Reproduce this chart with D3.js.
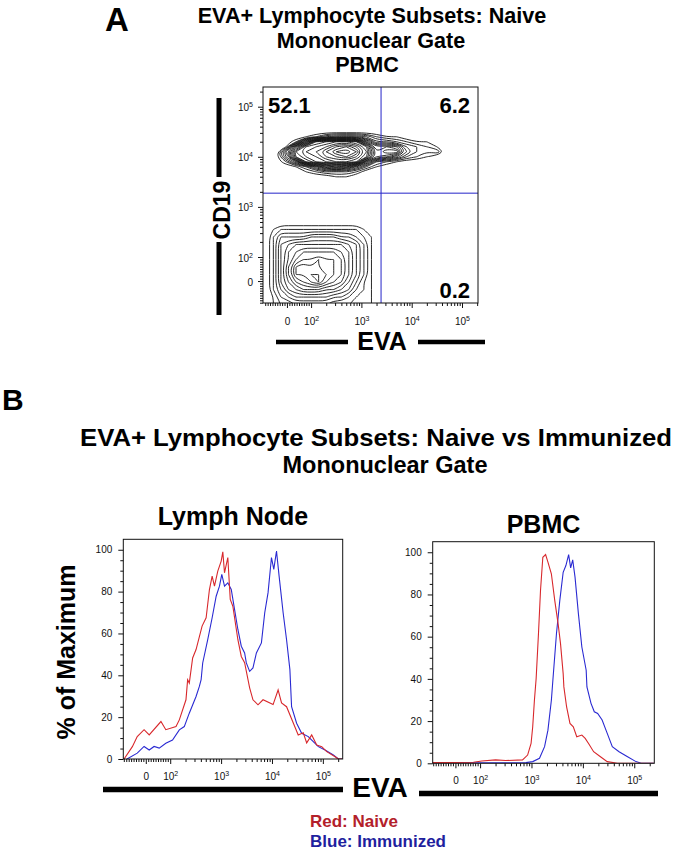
<!DOCTYPE html>
<html lang="en">
<head>
  <meta charset="UTF-8">
  <title>EVA+ Lymphocyte Subsets</title>
  <script src="https://d3js.org/d3.v7.min.js"></script>
  <style>
    body {
      margin: 0;
      background: #fff;
    }
    svg {
      display: block;
      font-family: 'Liberation Sans', Arial, Helvetica, sans-serif;
    }
    .tick text {
      font-size: 10px;
      fill: #111;
    }
    .tick line,
    .frame {
      stroke: #111;
    }
  </style>
</head>
<body>
  <svg id="fig" width="676" height="852"></svg>

  <script>
    // ---- data ----
    const titleA = ["EVA+ Lymphocyte Subsets: Naive", "Mononuclear Gate", "PBMC"];
    const titleB = ["EVA+ Lymphocyte Subsets: Naive vs Immunized", "Mononuclear Gate"];
    const histTitles = ["Lymph Node", "PBMC"];
    const legendLabels = ["Red: Naive", "Blue: Immunized"];

    // quadrant percentages (UL, UR, LR) and gate position [EVA, CD19]
    const quadLabels = ["52.1", "6.2", "0.2"];
    const quadGate = [2460, 1880];

    // logicle-style axis ticks
    const majorTicks = [0, 100, 1000, 10000, 100000];
    const majorExp = [null, 2, 3, 4, 5];
    const pctTicks = [0, 20, 40, 60, 80, 100];

    // panel A density estimate, levels in base 36, grid axes in decades [start, step]
    const bCellGrid = [
      "0000000000000000000",
      "0000000000000000000",
      "0000000000000000000",
      "0001245554211000000",
      "0028efggf9443211000",
      "01afghjkif898432100",
      "06eghjlmkg9bb532300",
      "05dfgijkif986321000",
      "026dfghhg8321000000",
      "001369a963100000000",
      "0001233320000000000",
      "0000001100000000000",
      "0000000000000000000",
      "0000000000000000000",
      "0000000000000000000"
    ];
    const bCellGridX = [1.3, 0.2];
    const bCellGridY = [4.7, -0.1];

    const otherGrid = [
      "00000000000000000",
      "00000000000000000",
      "00000000000000000",
      "01222222222221000",
      "02444455554432100",
      "02567777777653100",
      "02578999998753100",
      "02579aabaa9753100",
      "0258bcbbaa9753100",
      "0258bbccba9753100",
      "02579abca98642100",
      "02467888776532100",
      "01345555544321100",
      "01223333322211100",
      "01223333322211100"
    ];
    const otherGridX = [1.1, 0.15];
    const otherGridY = [3.0, -0.15];

    // panel B histograms: [EVA intensity, % of maximum]
    const lymphNaive = [
      [-89, 0], [-55, 5.9], [-35, 10.7], [-7, 14], [14, 11.5], [62, 17.9], [82, 14],
      [130, 15.5], [151, 18.7], [204, 28.3], [220, 37.9], [237, 36.3], [276, 48.3],
      [322, 52.3], [423, 63.5], [508, 67.5], [590, 81], [667, 87.4], [741, 82.6],
      [861, 89.8], [1004, 94.6], [1081, 99], [1167, 89], [1356, 96.3], [1513, 76.3],
      [1703, 73], [2138, 57], [2495, 49], [2899, 46], [3640, 34], [4229, 28.3],
      [5311, 25.9], [6668, 28.3], [10515, 26], [13202, 33], [15417, 26.8], [19354, 25],
      [26111, 17.3], [32800, 11.5], [41200, 12.5], [48100, 7.7], [60350, 11.5],
      [75700, 6.7], [95100, 5.9], [119300, 3.5], [174000, 1.1], [202000, 0], [240000, 0]
    ];
    const lymphImmunized = [
      [-77, 0], [-35, 2.8], [-7, 6], [14, 4.3], [34, 6], [55, 5.2], [82, 7.5],
      [111, 9.1], [151, 13.9], [189, 15.5], [237, 21.9], [322, 29.9], [374, 34.7],
      [405, 37.9], [435, 45.9], [546, 57], [667, 67.5], [800, 77.8], [929, 82.6],
      [1032, 88.2], [1167, 82.6], [1356, 84.2], [1584, 81], [1841, 71.4], [2138, 61.9],
      [2495, 53.9], [2899, 50.7], [3132, 45.9], [3640, 41.9], [4229, 43.5], [4939, 50.7],
      [6199, 55.5], [7205, 69.9], [8375, 79.5], [9774, 96.3], [10856, 90.6], [12270, 99.4],
      [13812, 87.4], [16570, 69.9], [19354, 57], [22494, 42.7], [24283, 25], [30492, 17.1],
      [38300, 12.3], [51700, 10.7], [64900, 8.3], [81500, 5.9], [110400, 4.3],
      [161000, 1.9], [202000, 0], [240000, 0]
    ];
    const pbmcNaive = [
      [-95, 0.3], [73, 0.5], [108, 1.1], [200, 1.6], [315, 1.3], [670, 1.6], [841, 3.9],
      [982, 9.4], [1057, 17.3], [1141, 29.9], [1233, 40.2], [1368, 61.4], [1499, 81.9],
      [1663, 97.6], [1883, 98.9], [2091, 95.3], [2438, 89.8], [2836, 77.2], [3296, 66.2],
      [3674, 56.7], [4137, 42.5], [4270, 36.2], [4827, 26.7], [5610, 18.9], [6516, 17.3],
      [7607, 12.6], [9556, 13.4], [11100, 11.8], [12900, 9.4], [16200, 5.5], [22000, 3.1],
      [29800, 0.8], [47000, 0], [240000, 0]
    ];
    const pbmcImmunized = [
      [-95, 0.2], [782, 0.3], [1057, 0.8], [1432, 2.4], [1798, 7.9], [2091, 15.7],
      [2438, 29.9], [2624, 40.2], [3063, 61.4], [3559, 77.2], [4137, 90.5], [4675, 93.7],
      [5288, 98.9], [5790, 92.6], [6341, 96.4], [7040, 88.2], [8185, 70.9], [9556, 55.1],
      [11600, 44.1], [12000, 36.2], [14400, 28.4], [16700, 24.4], [19400, 23.6],
      [23700, 20.5], [29800, 14.2], [37400, 7.9], [50600, 5.5], [74100, 3.1],
      [108000, 0.8], [136000, 0], [240000, 0]
    ];

    // ---- helpers ----
    const LIN_WIDTH = 0.48; // decades used by the linear 0..100 zone
    function logicle(v) {
      return v >= 100 ? Math.log10(v) : 2 - LIN_WIDTH * (100 - v) / 100;
    }

    const minorTicks = [];
    for (let v = -90; v < 100; v += 10) if (v !== 0) minorTicks.push(v);
    for (let d = 2; d <= 5; d++) for (let k = 2; k <= 9; k++) minorTicks.push(k * Math.pow(10, d));

    const RED = "#d8282c", BLUE = "#2a2ad2";
    const svg = d3.select("#fig");

    function boldText(x, y, str, size, anchor) {
      return svg.append("text")
        .attr("x", x).attr("y", y)
        .attr("font-size", size).attr("font-weight", "bold")
        .attr("text-anchor", anchor || "middle")
        .text(str);
    }

    function powLabel(sel, i) {
      if (majorExp[i] === null) { sel.text("0"); return; }
      sel.append("tspan").text("10");
      sel.append("tspan").attr("dy", -4).attr("font-size", 7).text(majorExp[i]);
    }

    // logicle axis: d3 axis for ticks, labels with superscripts
    function logicleAxis(g, scale, axisFn, labelPos) {
      const dom = scale.domain();
      const inside = v => logicle(v) >= dom[0] && logicle(v) <= dom[1];
      g.append("g").call(axisFn(scale).tickValues(minorTicks.filter(inside).map(logicle))
        .tickSize(3).tickFormat("")).select(".domain").remove();
      const major = g.append("g").call(axisFn(scale).tickValues(majorTicks.map(logicle))
        .tickSize(5).tickFormat(""));
      major.select(".domain").remove();
      major.selectAll(".tick").each(function (d, i) {
        const t = d3.select(this).append("text")
          .attr("fill", "#111")
          .attr("x", labelPos[0]).attr("y", labelPos[1])
          .attr("text-anchor", labelPos[2]);
        powLabel(t, i);
      });
    }

    // ---- panel A ----
    boldText(105, 31, "A", 33, "start");
    boldText(372, 23, titleA[0], 21.6);
    boldText(371, 48, titleA[1], 21.6);
    boldText(367, 72, titleA[2], 21.6);

    const A = { left: 263, top: 87, right: 478, bottom: 303 };
    const xA = d3.scaleLinear().domain([1.044, 5.318]).range([A.left, A.right]);
    const yA = d3.scaleLinear().domain([1.082, 5.393]).range([A.bottom, A.top]);

    svg.append("clipPath").attr("id", "clipA").append("rect")
      .attr("x", A.left).attr("y", A.top)
      .attr("width", A.right - A.left).attr("height", A.bottom - A.top);

    const contourG = svg.append("g").attr("clip-path", "url(#clipA)");

    function drawDensity(grid, gx, gy) {
      const rows = grid.map(r => Array.from(r, c => parseInt(c, 36)));
      const n = rows[0].length, m = rows.length;
      const values = rows.flat();
      const levels = d3.range(1, d3.max(values) + 1);
      const sets = d3.contours().size([n, m]).thresholds(levels)(values);
      const ring = d3.line()
        .x(p => xA(gx[0] + (p[0] - 0.5) * gx[1]))
        .y(p => yA(gy[0] + (p[1] - 0.5) * gy[1]))
        .curve(d3.curveBasisClosed);
      sets.forEach(s => s.coordinates.forEach(poly => poly.forEach(r => {
        contourG.append("path")
          .attr("d", ring(r.slice(0, -1)))
          .attr("fill", "none")
          .attr("stroke", "#111")
          .attr("stroke-width", 0.9);
      })));
    }
    drawDensity(bCellGrid, bCellGridX, bCellGridY);
    drawDensity(otherGrid, otherGridX, otherGridY);

    // quadrant gate
    const gx = xA(logicle(quadGate[0])), gy = yA(logicle(quadGate[1]));
    svg.append("line").attr("x1", gx).attr("x2", gx).attr("y1", A.top).attr("y2", A.bottom)
      .attr("stroke", "#2424c8").attr("stroke-width", 1);
    svg.append("line").attr("x1", A.left).attr("x2", A.right).attr("y1", gy).attr("y2", gy)
      .attr("stroke", "#2424c8").attr("stroke-width", 1);

    svg.append("rect").attr("class", "frame")
      .attr("x", A.left).attr("y", A.top)
      .attr("width", A.right - A.left).attr("height", A.bottom - A.top)
      .attr("fill", "none");

    boldText(268, 113, quadLabels[0], 22, "start");
    boldText(470, 113, quadLabels[1], 22, "end");
    boldText(470, 298, quadLabels[2], 22, "end");

    logicleAxis(svg.append("g").attr("transform", `translate(0,${A.bottom})`),
      xA, d3.axisBottom, [0, 22, "middle"]);
    logicleAxis(svg.append("g").attr("transform", `translate(${A.left},0)`),
      yA, d3.axisLeft, [-10, 4, "end"]);

    // axis titles with the heavy rule marks
    svg.append("line").attr("x1", 219).attr("x2", 219).attr("y1", 98).attr("y2", 177)
      .attr("stroke", "#000").attr("stroke-width", 5);
    svg.append("line").attr("x1", 219).attr("x2", 219).attr("y1", 242).attr("y2", 315)
      .attr("stroke", "#000").attr("stroke-width", 5);
    boldText(0, 0, "CD19", 23).attr("transform", "translate(230,210) rotate(-90)");

    svg.append("line").attr("x1", 276).attr("x2", 348).attr("y1", 342).attr("y2", 342)
      .attr("stroke", "#000").attr("stroke-width", 4.5);
    svg.append("line").attr("x1", 418).attr("x2", 485).attr("y1", 342).attr("y2", 342)
      .attr("stroke", "#000").attr("stroke-width", 4.5);
    boldText(382, 350, "EVA", 25);

    // ---- panel B ----
    boldText(2, 410, "B", 30, "start");
    boldText(376, 446, titleB[0], 24).attr("textLength", 592).attr("lengthAdjust", "spacingAndGlyphs");
    boldText(385, 473, titleB[1], 24).attr("textLength", 205).attr("lengthAdjust", "spacingAndGlyphs");

    const histPanels = [
      { title: histTitles[0], naive: lymphNaive, immune: lymphImmunized,
        box: [123.3, 539.3, 342.7, 759], titleY: 525 },
      { title: histTitles[1], naive: pbmcNaive, immune: pbmcImmunized,
        box: [432.7, 541.7, 654.3, 763.3], titleY: 533 }
    ];

    histPanels.forEach((p, i) => {
      const [l, t, r, b] = p.box;
      const x = d3.scaleLinear().domain([1.078, 5.39]).range([l, r]);
      const y = d3.scaleLinear().domain([0, 105]).range([b, t]);
      const clipId = "clipH" + i;
      svg.append("clipPath").attr("id", clipId).append("rect")
        .attr("x", l).attr("y", t - 2).attr("width", r - l).attr("height", b - t + 2);

      boldText((l + r) / 2, p.titleY, p.title, 25);

      const line = d3.line().x(d => x(logicle(d[0]))).y(d => y(d[1]));
      const g = svg.append("g").attr("clip-path", `url(#${clipId})`);
      g.append("path").datum(p.immune).attr("d", line)
        .attr("fill", "none").attr("stroke", BLUE).attr("stroke-width", 1.1);
      g.append("path").datum(p.naive).attr("d", line)
        .attr("fill", "none").attr("stroke", RED).attr("stroke-width", 1.1);

      svg.append("rect").attr("class", "frame")
        .attr("x", l).attr("y", t).attr("width", r - l).attr("height", b - t)
        .attr("fill", "none");

      const yAxis = svg.append("g").attr("transform", `translate(${l},0)`);
      yAxis.append("g").call(d3.axisLeft(y).tickValues(d3.range(5, 105, 5).filter(v => v % 20))
        .tickSize(3).tickFormat("")).select(".domain").remove();
      yAxis.append("g").call(d3.axisLeft(y).tickValues(pctTicks).tickSize(5).tickPadding(6))
        .select(".domain").remove();

      logicleAxis(svg.append("g").attr("transform", `translate(0,${b})`),
        x, d3.axisBottom, [0, 21, "middle"]);
    });

    svg.append("text").attr("font-size", 25).attr("font-weight", "bold")
      .attr("text-anchor", "middle").attr("transform", "translate(75,652) rotate(-90)")
      .text("% of Maximum");

    // EVA label between the heavy rules
    svg.append("line").attr("x1", 103).attr("x2", 343).attr("y1", 789.5).attr("y2", 789.5)
      .attr("stroke", "#000").attr("stroke-width", 5.5);
    svg.append("line").attr("x1", 419).attr("x2", 658).attr("y1", 793.5).attr("y2", 793.5)
      .attr("stroke", "#000").attr("stroke-width", 5.5);
    boldText(380, 797, "EVA", 28);

    // legend
    boldText(310, 827, legendLabels[0], 17, "start").attr("fill", "#b3202a");
    boldText(310, 847, legendLabels[1], 17, "start").attr("fill", "#1f1f9e");
  </script>
</body>
</html>
